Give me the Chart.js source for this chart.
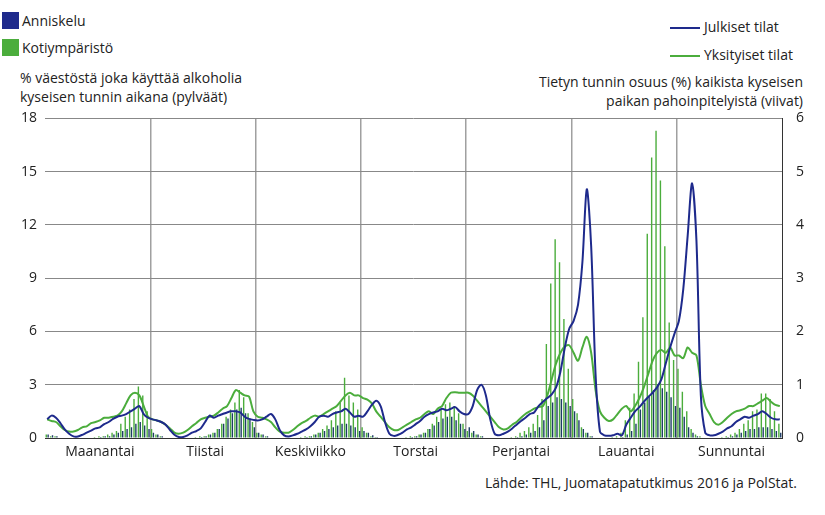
<!DOCTYPE html>
<html><head><meta charset="utf-8">
<script src="https://cdn.jsdelivr.net/npm/chart.js@4"></script>
<style>
body{margin:0;width:825px;height:515px;background:#fff;font-family:"Open Sans",sans-serif;color:#222;position:relative;overflow:hidden}
.t{position:absolute;font-size:14px;white-space:nowrap;line-height:19px}
.sq{position:absolute;width:17px;height:17px}
.ln{position:absolute;width:30px;height:2px}
#wrap{position:absolute;left:0;top:102px;width:825px;height:361px}
</style></head><body>
<div class="sq" style="left:2px;top:12px;background:#1e2a8c"></div><div class="t" style="left:22px;top:11px">Anniskelu</div>
<div class="sq" style="left:2px;top:39px;background:#4bad3c"></div><div class="t" style="left:22px;top:38px">Kotiympäristö</div>
<div class="ln" style="left:670px;top:27px;background:#1e2a8c"></div><div class="t" style="left:704px;top:17px">Julkiset tilat</div>
<div class="ln" style="left:670px;top:55px;background:#4bad3c"></div><div class="t" style="left:704px;top:45px">Yksityiset tilat</div>
<div class="t" style="left:20px;top:68px">% väestöstä joka käyttää alkoholia</div>
<div class="t" style="left:20px;top:87px">kyseisen tunnin aikana (pylväät)</div>
<div class="t" style="right:22px;top:72px;text-align:right">Tietyn tunnin osuus (%) kaikista kyseisen</div>
<div class="t" style="right:22px;top:91px;text-align:right">paikan pahoinpitelyistä (viivat)</div>
<div class="t" style="right:28px;top:473px">Lähde: THL, Juomatapatutkimus 2016 ja PolStat.</div>
<div id="wrap"><canvas id="c"></canvas></div>
<script>
const days=["Maanantai","Tiistai","Keskiviikko","Torstai","Perjantai","Lauantai","Sunnuntai"];
const julkiset=[
0.35,0.42,0.38,0.28,0.16,0.08,0.03,0.03,0.06,0.10,0.14,0.18,0.20,0.26,0.30,0.36,0.40,0.42,0.45,0.50,0.55,0.60,0.45,0.38,
0.35,0.33,0.30,0.25,0.15,0.06,0.02,0.02,0.05,0.10,0.13,0.18,0.30,0.42,0.38,0.42,0.45,0.48,0.50,0.50,0.48,0.40,0.36,0.34,
0.33,0.35,0.40,0.45,0.35,0.15,0.05,0.03,0.05,0.08,0.12,0.16,0.22,0.30,0.40,0.42,0.40,0.45,0.48,0.50,0.55,0.48,0.40,0.42,
0.40,0.50,0.62,0.70,0.60,0.30,0.08,0.04,0.06,0.10,0.16,0.20,0.26,0.32,0.40,0.45,0.48,0.50,0.55,0.52,0.55,0.58,0.50,0.45,
0.45,0.60,0.90,1.00,0.80,0.35,0.08,0.05,0.08,0.12,0.18,0.25,0.32,0.38,0.45,0.48,0.60,0.68,0.75,0.82,0.95,1.25,1.70,2.05,
2.20,2.50,3.30,4.67,3.60,1.20,0.12,0.05,0.04,0.05,0.08,0.05,0.25,0.38,0.50,0.58,0.68,0.77,0.85,0.95,1.10,1.40,1.70,1.96,
2.20,2.80,3.80,4.78,3.70,0.80,0.10,0.05,0.05,0.08,0.12,0.18,0.22,0.30,0.35,0.40,0.38,0.42,0.45,0.50,0.45,0.38,0.35,0.35];
const yksityiset=[
0.35,0.32,0.30,0.22,0.15,0.12,0.12,0.15,0.20,0.22,0.28,0.30,0.33,0.38,0.38,0.40,0.42,0.50,0.65,0.80,0.85,0.80,0.60,0.40,
0.35,0.33,0.30,0.25,0.18,0.10,0.08,0.10,0.15,0.22,0.28,0.35,0.38,0.40,0.42,0.48,0.55,0.60,0.75,0.90,0.85,0.80,0.78,0.50,
0.40,0.38,0.35,0.30,0.20,0.12,0.10,0.10,0.15,0.22,0.28,0.32,0.38,0.42,0.40,0.45,0.50,0.55,0.60,0.70,0.80,0.85,0.80,0.80,
0.75,0.72,0.65,0.50,0.40,0.30,0.20,0.15,0.15,0.20,0.25,0.30,0.35,0.38,0.45,0.50,0.45,0.55,0.60,0.75,0.85,0.86,0.85,0.85,
0.85,0.80,0.70,0.60,0.50,0.40,0.30,0.20,0.16,0.18,0.25,0.30,0.38,0.45,0.50,0.55,0.58,0.60,0.80,1.10,1.40,1.60,1.72,1.74,
1.60,1.45,1.70,1.90,1.60,0.90,0.50,0.38,0.32,0.35,0.45,0.55,0.60,0.50,0.60,0.75,0.95,1.20,1.45,1.60,1.65,1.60,1.70,1.55,
1.55,1.50,1.70,1.60,1.55,1.00,0.60,0.45,0.30,0.25,0.30,0.38,0.45,0.50,0.52,0.55,0.60,0.60,0.65,0.70,0.75,0.68,0.62,0.60];
const koti=[
0.2,0.1,0.1,0,0,0,0,0,0,0,0,0.05,0.1,0.1,0.2,0.3,0.4,0.8,1.2,1.6,2.2,2.9,2.4,1.5,
0.5,0.2,0.1,0,0,0,0,0,0,0,0.05,0.1,0.1,0.2,0.3,0.5,0.8,1.2,1.6,2.0,2.7,2.3,1.4,0.9,
0.3,0.2,0.1,0,0,0,0,0,0,0,0.05,0.1,0.1,0.2,0.3,0.5,0.7,1.0,1.5,2.0,3.4,2.4,2.0,1.6,
0.6,0.3,0.1,0.05,0,0,0,0,0,0,0.05,0.1,0.1,0.2,0.3,0.5,0.8,1.2,1.6,1.9,2.0,1.8,1.4,0.8,
0.4,0.3,0.2,0.1,0,0,0,0,0,0,0.05,0.1,0.3,0.4,0.6,0.8,1.3,2.2,5.3,8.7,11.2,9.9,6.7,3.9,
2.2,1.4,0.6,0.3,0.1,0,0,0,0,0.05,0.1,0.3,1.0,1.7,2.5,4.3,6.8,11.5,15.8,17.3,14.5,10.8,6.5,4.4,
3.9,2.6,1.5,0.5,0.2,0.1,0,0,0,0,0.05,0.1,0.2,0.3,0.5,0.8,1.0,1.5,1.6,2.5,2.5,2.2,1.5,0.8];
const anniskelu=[
0.2,0.15,0.1,0,0,0,0,0,0,0,0,0,0.05,0.1,0.1,0.2,0.3,0.4,0.5,0.6,0.8,0.9,0.7,0.5,
0.3,0.2,0.1,0,0,0,0,0,0,0,0,0.05,0.1,0.2,0.3,0.5,0.8,1.1,1.4,1.6,1.7,1.4,1.1,0.6,
0.3,0.2,0.1,0,0,0,0,0,0,0,0,0.05,0.1,0.2,0.3,0.4,0.5,0.6,0.7,0.8,0.8,0.7,0.6,0.4,
0.4,0.3,0.15,0.05,0,0,0,0,0,0,0,0.05,0.1,0.2,0.3,0.5,0.7,0.9,1.1,1.2,1.2,1.0,0.8,0.5,
0.6,0.4,0.2,0.1,0,0,0,0,0,0,0,0.05,0.1,0.2,0.3,0.4,0.6,1.0,1.8,2.0,2.3,2.2,2.0,1.8,
1.5,1.0,0.5,0.3,0.1,0,0,0,0,0,0,0.05,0.2,0.4,0.8,1.6,2.0,2.4,2.7,3.0,2.8,2.6,2.3,1.8,
1.7,1.2,0.6,0.3,0.1,0,0,0,0,0,0,0.05,0.1,0.2,0.3,0.4,0.5,0.5,0.6,0.6,0.6,0.5,0.4,0.3];
const leftTicks=[0,3,6,9,12,15,18];
const rightTicks=[0,1,2,3,4,5,6];
const labels=[];days.forEach(d=>{for(let h=0;h<24;h++)labels.push(h===12?d:"");});
const font={family:"Open Sans",size:14};
new Chart(document.getElementById('c'),{
data:{labels,datasets:[
{type:'line',data:julkiset,yAxisID:'y2',borderColor:'#1e2a8c',borderWidth:2,pointRadius:0,tension:0.3,order:0},
{type:'line',data:yksityiset,yAxisID:'y2',borderColor:'#4bad3c',borderWidth:2,pointRadius:0,tension:0.3,order:1},
{type:'bar',data:anniskelu,yAxisID:'y',backgroundColor:'#1d3c66',barPercentage:0.75,categoryPercentage:0.85,order:3},
{type:'bar',data:koti,yAxisID:'y',backgroundColor:'#4bad3c',barPercentage:0.75,categoryPercentage:0.85,order:2}]},
options:{animation:false,responsive:true,maintainAspectRatio:false,
layout:{padding:{top:7,left:0,right:0,bottom:0}},
plugins:{legend:{display:false},tooltip:{enabled:false}},
scales:{
x:{offset:true,grid:{offset:true,color:c=>c.index%24===0&&c.index>0?'#a0a0a0':'rgba(0,0,0,0)',lineWidth:1.5,drawTicks:false},
 border:{color:'#333',width:1},
 ticks:{autoSkip:false,maxRotation:0,font,color:'#222',padding:6,callback:(v,i)=>labels[i]},
 afterFit:s=>{s.height=25;}},
y:{position:'left',min:0,max:18,afterBuildTicks:a=>{a.ticks=leftTicks.map(v=>({value:v}));},
 grid:{color:c=>c.tick&&c.tick.value>0?'#888':'rgba(0,0,0,0)',borderDash:[5,4],drawTicks:false},
 border:{display:false},ticks:{font,color:'#222',padding:8},afterFit:s=>{s.width=45;}},
y2:{position:'right',min:0,max:6,afterBuildTicks:a=>{a.ticks=rightTicks.map(v=>({value:v}));},
 grid:{display:false},border:{color:'#333'},ticks:{font,color:'#222',padding:6},afterFit:s=>{s.width=43;}}
}}});
</script></body></html>
